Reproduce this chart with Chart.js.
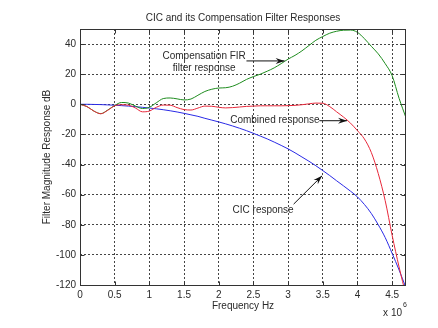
<!DOCTYPE html>
<html>
<head>
<meta charset="utf-8">
<script src="https://cdn.jsdelivr.net/npm/chart.js@4.4.0/dist/chart.umd.min.js"></script>
<style>
  html, body { margin: 0; padding: 0; background: #fff; }
</style>
</head>
<body>
<canvas id="cicChart" width="438" height="328"></canvas>
<script>
// Données (fréquence en x 10^6 Hz, réponse en dB)
const freq = [0, 0.1, 0.2, 0.3, 0.4, 0.5, 0.6, 0.7, 0.8, 0.9,
              1.0, 1.1, 1.2, 1.3, 1.4, 1.5, 1.6, 1.7, 1.8, 1.9,
              2.0, 2.1, 2.2, 2.3, 2.4, 2.5, 2.6, 2.7, 2.8, 2.9,
              3.0, 3.1, 3.2, 3.3, 3.4, 3.5, 3.6, 3.7, 3.8, 3.9,
              4.0, 4.1, 4.2, 4.3, 4.4, 4.5, 4.6, 4.7];

const cicResponse = [0, 0, -0.1, -0.2, -0.4, -0.6, -0.9, -1.2, -1.6, -2,
                     -2.5, -3, -3.6, -4.3, -5.1, -6, -7, -8, -9.3, -10.5,
                     -11.7, -13, -14.4, -15.9, -17.5, -19.3, -21.1, -23, -25.1, -27.3,
                     -29.6, -32.2, -35, -37.8, -40.8, -44, -47.3, -50.8, -54.2, -57.7,
                     -61.5, -66.5, -72.5, -80, -88.5, -99, -110, -122];

const firResponse = [0, -1.5, -4.5, -6.2, -3.8, -0.8, 1.2, 0.8, -1.2, -2.8,
                     -2, 1, 3.8, 4.2, 3.6, 2.9, 3.5, 6, 8.5, 10,
                     10.8, 11, 12, 14, 16.5, 18.4, 20, 22, 24.2, 27,
                     30, 32.5, 35.5, 39, 42.5, 45, 47.2, 48.5, 49.2, 49.3,
                     47.8, 43.6, 38.5, 33.5, 27, 19, 4, -9];

const combinedResponse = [0, -1.5, -4.5, -6.3, -4, -1, -0.3, -0.6, -2.5, -5,
                          -4.5, -2, -0.5, -0.6, -2.2, -3.5, -3.8, -2.5, -1.2, -1.3,
                          -2, -2.4, -2.2, -1.8, -1.4, -1.2, -1, -1, -1, -1,
                          -0.9, -0.7, -0.3, 0.3, 0.8, 0.7, -1.5, -5, -8.5, -12.5,
                          -17.5, -23, -32, -46, -64, -87, -108, -127];

const xTicks = [0, 0.5, 1, 1.5, 2, 2.5, 3, 3.5, 4, 4.5];
const yTicks = [-120, -100, -80, -60, -40, -20, 0, 20, 40];

// Annotations (coordonnées en unités des données)
const notes = [
    { lines: ['Compensation FIR', 'filter response'], x: 1.79, y: 32.1, arrow: [2.40, 28.8, 2.95, 28.8] },
    { lines: ['Combined response'], x: 2.81, y: -10.9, arrow: [3.45, -10.9, 3.85, -10.9] },
    { lines: ['CIC response'], x: 2.64, y: -70.3, arrow: [3.08, -66.3, 3.49, -47.5] }
];

const FONT = '10px "Liberation Sans", Arial, sans-serif';
const TEXT_COLOR = '#2a2a2a';

function toPoints(values) {
    return freq.map((f, i) => ({ x: f, y: values[i] }));
}

function drawArrow(ctx, x1, y1, x2, y2) {
    const angle = Math.atan2(y2 - y1, x2 - x1);
    const c = Math.cos(angle), s = Math.sin(angle);
    ctx.beginPath();
    ctx.moveTo(x1, y1);
    ctx.lineTo(x2, y2);
    ctx.stroke();
    ctx.beginPath();
    ctx.moveTo(x2, y2);
    ctx.lineTo(x2 - 9 * c + 3 * s, y2 - 9 * s - 3 * c);
    ctx.lineTo(x2 - 6 * c, y2 - 6 * s);
    ctx.lineTo(x2 - 9 * c - 3 * s, y2 - 9 * s + 3 * c);
    ctx.closePath();
    ctx.fill();
}

// Cadre, graduations intérieures, titre, annotations et facteur d'échelle
const decorPlugin = {
    id: 'decor',
    afterDraw(chart) {
        const ctx = chart.ctx;
        const area = chart.chartArea;
        const xs = chart.scales.x;
        const ys = chart.scales.y;
        const L = Math.round(area.left) + 0.5;
        const R = Math.round(area.right) - 0.5;
        const T = Math.round(area.top) + 0.5;
        const B = Math.round(area.bottom) + 0.5;
        ctx.save();
        ctx.setLineDash([]);
        ctx.strokeStyle = '#333';
        ctx.lineWidth = 1;
        ctx.strokeRect(L, T, R - L, B - T);

        ctx.beginPath();
        xTicks.forEach(v => {
            const px = Math.round(xs.getPixelForValue(v)) + 0.5;
            ctx.moveTo(px, B); ctx.lineTo(px, B - 4);
            ctx.moveTo(px, T); ctx.lineTo(px, T + 4);
        });
        yTicks.forEach(v => {
            const py = Math.round(ys.getPixelForValue(v)) + 0.5;
            ctx.moveTo(L, py); ctx.lineTo(L + 4, py);
            ctx.moveTo(R, py); ctx.lineTo(R - 4, py);
        });
        ctx.stroke();

        ctx.fillStyle = TEXT_COLOR;
        ctx.font = FONT;
        ctx.textAlign = 'center';
        ctx.textBaseline = 'middle';
        ctx.fillText('CIC and its Compensation Filter Responses', (area.left + area.right) / 2, 18);

        ctx.strokeStyle = '#111';
        notes.forEach(n => {
            const px = xs.getPixelForValue(n.x);
            const py = ys.getPixelForValue(n.y);
            ctx.fillStyle = TEXT_COLOR;
            n.lines.forEach((t, i) => ctx.fillText(t, px, py + i * 12));
            ctx.fillStyle = '#111';
            drawArrow(ctx,
                xs.getPixelForValue(n.arrow[0]), ys.getPixelForValue(n.arrow[1]),
                xs.getPixelForValue(n.arrow[2]), ys.getPixelForValue(n.arrow[3]));
        });

        ctx.fillStyle = TEXT_COLOR;
        ctx.textAlign = 'right';
        ctx.fillText('x 10', area.right - 4, 313);
        ctx.font = '7px "Liberation Sans", Arial, sans-serif';
        ctx.textAlign = 'left';
        ctx.fillText('6', area.right - 3, 305);
        ctx.restore();
    }
};

const axisFont = { family: '"Liberation Sans", Arial', size: 10 };

const cicChart = new Chart(document.getElementById('cicChart'), {
    type: 'line',
    data: {
        datasets: [
            { label: 'Combined response', data: toPoints(combinedResponse), borderColor: '#e8283a' },
            { label: 'Compensation FIR filter response', data: toPoints(firResponse), borderColor: '#1e8c1e' },
            { label: 'CIC response', data: toPoints(cicResponse), borderColor: '#2a2ae6' }
        ]
    },
    options: {
        responsive: false,
        animation: false,
        layout: { padding: { left: 37, right: 32, top: 29, bottom: 12 } },
        elements: {
            line: { borderWidth: 1, cubicInterpolationMode: 'monotone', fill: false },
            point: { radius: 0 }
        },
        plugins: {
            legend: { display: false },
            tooltip: { enabled: false },
            title: { display: false }
        },
        scales: {
            x: {
                type: 'linear',
                min: 0,
                max: 4.7,
                afterBuildTicks: scale => { scale.ticks = xTicks.map(v => ({ value: v })); },
                afterFit: scale => { scale.height = 31; },
                ticks: { color: TEXT_COLOR, font: axisFont, padding: 4, maxRotation: 0, callback: v => String(v) },
                grid: { color: '#444', drawTicks: false },
                border: { display: false, dash: [2, 2] },
                title: { display: true, text: 'Frequency Hz', color: TEXT_COLOR, font: axisFont }
            },
            y: {
                min: -120,
                max: 50,
                afterBuildTicks: scale => { scale.ticks = yTicks.map(v => ({ value: v })); },
                afterFit: scale => { scale.width = 43; },
                ticks: { color: TEXT_COLOR, font: axisFont, padding: 4, callback: v => String(v) },
                grid: { color: '#444', drawTicks: false },
                border: { display: false, dash: [2, 2] },
                title: { display: true, text: 'Filter Magnitude Response dB', color: TEXT_COLOR, font: axisFont }
            }
        }
    },
    plugins: [decorPlugin]
});
</script>
</body>
</html>
